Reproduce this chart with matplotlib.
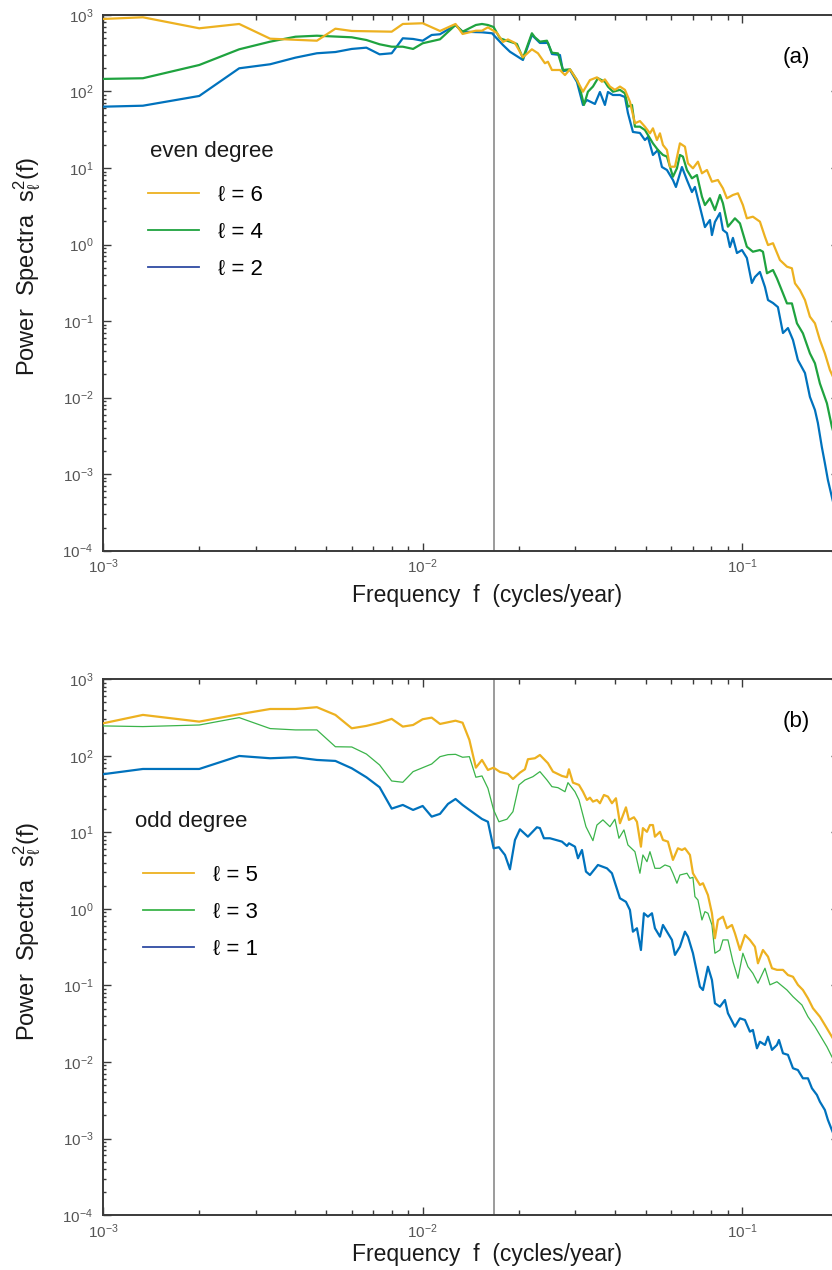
import numpy as np
import matplotlib.pyplot as plt
from matplotlib.lines import Line2D
from matplotlib.ticker import LogLocator, NullFormatter

# ---- panel (a): even degree, frequency (cycles/year) and power
f6 = [0.001, 0.001333, 0.002, 0.002667, 0.003333, 0.004667, 0.005333, 0.006,
      0.008, 0.008667, 0.01, 0.01133, 0.01267, 0.01333, 0.01467, 0.01533, 0.016,
      0.01708, 0.01783, 0.01848, 0.01944, 0.02059, 0.02196, 0.02294, 0.02412,
      0.02465, 0.02537, 0.02688, 0.02787, 0.02889, 0.03039, 0.03173, 0.03336,
      0.03508, 0.03637, 0.03716, 0.03853, 0.03994, 0.04141, 0.04293, 0.04450,
      0.04613, 0.04782, 0.04957, 0.05140, 0.05252, 0.05406, 0.05524, 0.05645,
      0.05809, 0.05936, 0.06154, 0.06379, 0.06613, 0.06758, 0.07006, 0.07263,
      0.07475, 0.07749, 0.08033, 0.08387, 0.08695, 0.08949, 0.09345, 0.09688,
      0.1004, 0.1033, 0.1079, 0.1135, 0.1177, 0.1203, 0.1247, 0.1311, 0.1379,
      0.1429, 0.1461, 0.1514, 0.1570, 0.1627, 0.1687, 0.1748, 0.1812, 0.1879, 0.2019]
p6 = [887, 933, 670, 763, 490, 461, 662, 618,
      605, 763, 780, 618, 763, 565, 623, 623, 690,
      582, 444, 479, 431, 280, 356, 316, 234,
      245, 191, 191, 164, 195, 141, 99.3, 141,
      153, 134, 144, 116, 105, 116, 105, 73.6,
      38.4, 41.1, 34.7, 28.4, 33.0, 23.2, 28.4, 20.0,
      17.2, 10.4, 10.4, 21.0, 19.0, 11.5, 9.91, 12.1,
      8.53, 9.42, 6.62, 6.97, 5.43, 4.02, 4.44, 4.67,
      3.28, 2.20, 2.31, 1.99, 1.26, 0.984, 1.04, 0.627, 0.513,
      0.489, 0.311, 0.254, 0.188, 0.114, 0.0933, 0.0565, 0.0378, 0.0229, 0.0118]

f4 = [0.001, 0.001333, 0.002, 0.002667, 0.003333, 0.004, 0.004667, 0.006,
      0.006667, 0.007333, 0.008, 0.008667, 0.009333, 0.01, 0.01133, 0.01267, 0.01333,
      0.01467, 0.01533, 0.016, 0.01667,
      0.01745, 0.01875, 0.01972, 0.02059, 0.02196, 0.02244, 0.02327, 0.02448,
      0.02537, 0.02650, 0.02747, 0.02889, 0.03039, 0.03105, 0.03196, 0.03288,
      0.03409, 0.03534, 0.03716, 0.03798, 0.03937, 0.04141, 0.04293, 0.04386,
      0.04515, 0.04613, 0.04782, 0.04957, 0.05066, 0.05252, 0.05445, 0.05645,
      0.05809, 0.06066, 0.06243, 0.06379, 0.06518, 0.06709, 0.06955, 0.07211,
      0.07475, 0.07638, 0.07918, 0.08208, 0.08509, 0.08695, 0.09014, 0.09480,
      0.09829, 0.1033, 0.1079, 0.1135, 0.1160, 0.1194, 0.1247, 0.1283,
      0.1340, 0.1379, 0.1429, 0.1482, 0.1547, 0.1627, 0.1687, 0.1748, 0.1839, 0.1906, 0.2019]
p4 = [146, 149, 222, 356, 448, 520, 536, 511,
      471, 414, 385, 385, 360, 427, 481, 740, 605,
      740, 763, 740, 696,
      495, 448, 418, 272, 577, 511, 448, 461,
      321, 315, 191, 195, 141, 110, 66.7, 99.3,
      116, 149, 134, 116, 99.3, 105, 94.6, 63.2,
      66.7, 34.7, 34.7, 31.4, 27.0, 21.0, 17.2, 14.8,
      14.1, 7.69, 9.91, 14.8, 14.1, 9.42, 7.33, 8.09,
      4.22, 3.28, 4.02, 2.82, 4.44, 3.46, 1.71, 2.20,
      1.89, 0.936, 0.805, 0.847, 0.805, 0.421, 0.464, 0.361,
      0.230, 0.170, 0.170, 0.0933, 0.0690, 0.0378, 0.0280, 0.0153, 0.00840, 0.00415, 0.00177]

f2 = [0.001, 0.001333, 0.002, 0.002667, 0.003333, 0.004, 0.004667, 0.005333,
      0.006, 0.006667, 0.007333, 0.008, 0.008667, 0.009333, 0.01, 0.01067, 0.01133,
      0.01267, 0.01333, 0.01533, 0.01648,
      0.01783, 0.01875, 0.02059, 0.02196, 0.02327, 0.02465, 0.02537, 0.02688,
      0.02747, 0.02889, 0.03039, 0.03173, 0.03265, 0.03458, 0.03585, 0.03716,
      0.03798, 0.03937, 0.04141, 0.04293, 0.04386, 0.04547, 0.04782, 0.04957,
      0.05066, 0.05252, 0.05445, 0.05604, 0.05809, 0.06066, 0.06198, 0.06472,
      0.06709, 0.06955, 0.07107, 0.07368, 0.07638, 0.07918, 0.08033, 0.08208,
      0.08509, 0.08695, 0.08949, 0.09145, 0.09345, 0.09619, 0.09972, 0.1033,
      0.1071, 0.1095, 0.1135, 0.1177, 0.1203, 0.1247, 0.1292, 0.1340,
      0.1389, 0.1440, 0.1492, 0.1570, 0.1627, 0.1687, 0.1723, 0.1773, 0.1812, 0.1852, 0.1906, 0.2019]
p2 = [63.3, 65.2, 87.4, 201, 227, 277, 316, 328,
      360, 374, 306, 316, 496, 486, 461, 548, 560,
      740, 605, 594, 577,
      405, 331, 258, 548, 431, 431, 309, 300,
      185, 191, 133, 66.7, 77.4, 68.7, 98.5, 66.7,
      98.5, 90.0, 90.0, 84.7, 52.4, 29.6, 28.7, 23.2,
      25.4, 14.8, 17.2, 10.3, 9.42, 6.97, 5.65, 10.3,
      6.97, 4.85, 5.65, 3.09, 1.69, 2.09, 1.33, 1.97,
      2.58, 1.55, 1.41, 0.927, 1.22, 0.774, 0.847, 0.667,
      0.314, 0.376, 0.438, 0.278, 0.188, 0.172, 0.152, 0.0697,
      0.0809, 0.0565, 0.0309, 0.0209, 0.0102, 0.00687, 0.00465, 0.00225, 0.00139, 0.000836, 0.000500, 0.000185]

# ---- panel (b): odd degree
f5 = [0.001, 0.001333, 0.002, 0.002667, 0.003333, 0.004, 0.004667, 0.005333,
      0.006, 0.006667, 0.007333, 0.008, 0.008667, 0.009333, 0.01, 0.01067,
      0.01133, 0.01267, 0.01333, 0.014, 0.01467, 0.01533, 0.016, 0.01667,
      0.01745, 0.01848, 0.01916, 0.02015, 0.02089, 0.02134, 0.02244, 0.02327,
      0.02465, 0.02556, 0.02727, 0.02827, 0.02868, 0.02952, 0.03083, 0.03173,
      0.03265, 0.03336, 0.03409, 0.03508, 0.03585, 0.03690, 0.03798, 0.03909,
      0.04023, 0.04141, 0.04324, 0.04418, 0.04580, 0.04680, 0.04817, 0.04886,
      0.05030, 0.05140, 0.05252, 0.05328, 0.05524, 0.05645, 0.05851, 0.06066,
      0.06288, 0.06472, 0.06613, 0.06856, 0.07006, 0.07211, 0.07368, 0.07529,
      0.07805, 0.08033, 0.08208, 0.08387, 0.08695, 0.08949, 0.09278, 0.09480,
      0.09829, 0.1019, 0.1056, 0.1095, 0.1119, 0.1160, 0.1203, 0.1238,
      0.1283, 0.1340, 0.1389, 0.1440, 0.1492, 0.1547, 0.1604, 0.1663,
      0.1748, 0.1812, 0.1906, 0.2019]
p5 = [267, 344, 281, 351, 411, 411, 434, 344,
      230, 247, 272, 305, 242, 254, 302, 317,
      262, 289, 272, 162, 70.3, 88.7, 65.6, 70.3,
      61.8, 58.2, 50.0, 60.5, 67.0, 90.6, 93.3, 103,
      80.4, 62.4, 54.8, 52.7, 67.0, 44.8, 41.8, 34.1,
      26.6, 28.5, 25.3, 26.6, 24.1, 30.9, 29.4, 24.1,
      28.0, 13.2, 21.3, 14.6, 15.8, 13.8, 6.52, 11.4,
      10.2, 12.5, 12.5, 8.81, 10.2, 7.98, 7.59, 4.38,
      6.21, 5.90, 6.21, 5.08, 2.93, 2.39, 2.06, 2.17,
      1.52, 0.879, 0.414, 0.718, 0.793, 0.560, 0.618, 0.481,
      0.291, 0.457, 0.394, 0.321, 0.195, 0.291, 0.238, 0.168,
      0.160, 0.160, 0.137, 0.130, 0.102, 0.0873, 0.0681, 0.0504,
      0.0391, 0.0305, 0.0214, 0.0144]

f3 = [0.001, 0.001333, 0.002, 0.002667, 0.003333, 0.004, 0.004667, 0.005333,
      0.006, 0.006667, 0.007333, 0.008, 0.008667, 0.009333, 0.01067, 0.01133,
      0.012, 0.01267, 0.01333, 0.014, 0.01467, 0.01533, 0.016, 0.01667,
      0.01732, 0.01835, 0.01916, 0.02001, 0.02089, 0.02212, 0.02327, 0.02448, 0.02537, 0.02650,
      0.02787, 0.02848, 0.02995, 0.03083, 0.03242, 0.03409, 0.03508, 0.03663, 0.03853, 0.03994,
      0.04111, 0.04262, 0.04386, 0.04613, 0.04782, 0.04886, 0.05030, 0.05140, 0.05328, 0.05524,
      0.05727, 0.05936, 0.06066, 0.06243, 0.06379, 0.06709, 0.06856, 0.07006, 0.07107, 0.07263,
      0.07475, 0.07638, 0.07805, 0.08033, 0.08208, 0.08509, 0.08695, 0.09014, 0.09345, 0.09688,
      0.1004, 0.1041, 0.1079, 0.1119, 0.1177, 0.1220, 0.1283, 0.1379, 0.1440, 0.1536,
      0.1604, 0.1687, 0.1773, 0.1839, 0.1906, 0.2019]
p3 = [247, 242, 254, 317, 228, 219, 219, 132,
      131, 106, 76.2, 47.1, 45.3, 62.4, 78.5, 97.9,
      104, 105, 96.2, 97.9, 52.7, 54.8, 37.8, 19.7,
      13.8, 14.9, 18.7, 41.8, 48.5, 53.6, 62.4, 48.5, 39.7, 38.5,
      34.1, 44.8, 34.1, 26.6, 11.9, 7.82, 12.5, 14.6, 11.9, 14.9,
      8.40, 10.8, 6.87, 5.61, 2.93, 5.08, 4.15, 5.61, 3.40, 3.40,
      3.76, 3.57, 2.93, 2.17, 2.78, 2.93, 2.52, 2.59, 1.45, 1.31,
      0.718, 0.923, 0.879, 0.618, 0.264, 0.291, 0.394, 0.394, 0.205, 0.124,
      0.264, 0.176, 0.144, 0.107, 0.168, 0.102, 0.112, 0.0873, 0.0715, 0.0556,
      0.0391, 0.0289, 0.0204, 0.0158, 0.0117, 0.00785]

f1 = [0.001, 0.001333, 0.002, 0.002667, 0.003333, 0.004, 0.004667, 0.005333,
      0.006, 0.006667, 0.007333, 0.008, 0.008667, 0.009333, 0.01, 0.01067,
      0.01133, 0.012, 0.01267, 0.01333, 0.014, 0.01533, 0.016, 0.01667,
      0.01732, 0.01809, 0.01875, 0.01944, 0.02015, 0.02134, 0.02277, 0.02327, 0.02395, 0.02501,
      0.02727, 0.02827, 0.02868, 0.02995, 0.03061, 0.03150, 0.03242, 0.03336, 0.03534, 0.03771,
      0.03909, 0.04141, 0.04324, 0.04450, 0.04547, 0.04680, 0.04817, 0.04922, 0.05066, 0.05215,
      0.05328, 0.05524, 0.05645, 0.05809, 0.06022, 0.06154, 0.06379, 0.06613, 0.06758, 0.07006,
      0.07368, 0.07529, 0.07805, 0.08033, 0.08208, 0.08509, 0.08821, 0.09014, 0.09480, 0.09829,
      0.1019, 0.1056, 0.1079, 0.1111, 0.1135, 0.1177, 0.1203, 0.1238, 0.1283, 0.1302,
      0.1340, 0.1389, 0.1440, 0.1492, 0.1547, 0.1604, 0.1651, 0.1711, 0.1748, 0.1812,
      0.1852, 0.1906, 0.2019]
p1 = [57.7, 67.6, 67.6, 100, 93.3, 96.2, 88.7, 86.1,
      69.0, 52.7, 39.0, 20.5, 22.9, 19.7, 22.2, 16.1,
      17.5, 23.6, 27.4, 22.9, 19.7, 15.0, 13.8, 6.21,
      6.41, 5.08, 3.30, 7.98, 11.0, 8.81, 11.7, 11.4, 8.40, 8.40,
      7.59, 6.67, 7.22, 6.52, 4.60, 5.90, 3.08, 2.78, 3.76, 3.40,
      2.93, 1.38, 1.24, 0.970, 0.505, 0.560, 0.291, 0.879, 0.793, 0.879,
      0.560, 0.435, 0.618, 0.505, 0.394, 0.251, 0.321, 0.505, 0.435, 0.264,
      0.0964, 0.0873, 0.176, 0.118, 0.0585, 0.0528, 0.0646, 0.0434, 0.0289, 0.0372,
      0.0354, 0.0249, 0.0262, 0.0151, 0.0184, 0.0167, 0.0214, 0.0144, 0.0167, 0.0194,
      0.0130, 0.0124, 0.00828, 0.00785, 0.00612, 0.00612, 0.00453, 0.00371, 0.00303, 0.00236,
      0.00175, 0.00129, 0.000708]

cut_period = 60.0  # years, grey vertical marker
even_labels = ['ℓ = 6', 'ℓ = 4', 'ℓ = 2']
odd_labels = ['ℓ = 5', 'ℓ = 3', 'ℓ = 1']

plt.rcParams['font.family'] = ['Liberation Sans', 'DejaVu Sans']
plt.rcParams['mathtext.default'] = 'regular'
plt.rcParams['axes.unicode_minus'] = False
narrow = ['Liberation Sans Narrow', 'Liberation Sans', 'DejaVu Sans']

c_or, c_gr, c_bl = '#EDB120', '#1FA33F', '#0072BD'
c_gr2 = '#3BB44A'
c_leg_bl = '#2F4BA3'
spine_col = '#3a3a3a'

fig = plt.figure(figsize=(8.32, 12.70), dpi=100)
ax_a = fig.add_axes([0.1238, 0.5665, 0.8841, 0.4217])
ax_b = fig.add_axes([0.1238, 0.0433, 0.8841, 0.4217])


def style_axes(ax, xlab_y):
    ax.set_xscale('log')
    ax.set_yscale('log')
    ax.set_xlim(1e-3, 0.2)
    ax.set_ylim(1e-4, 1e3)
    ax.set_xticks([1e-3, 1e-2, 1e-1])
    ax.set_yticks(10.0 ** np.arange(-4, 4))
    ax.xaxis.set_minor_locator(LogLocator(base=10, subs=np.arange(2, 10), numticks=20))
    ax.yaxis.set_minor_locator(LogLocator(base=10, subs=np.arange(2, 10), numticks=20))
    ax.xaxis.set_minor_formatter(NullFormatter())
    ax.yaxis.set_minor_formatter(NullFormatter())
    ax.tick_params(which='both', direction='in', top=True, right=True,
                   color=spine_col, width=1.0)
    ax.tick_params(which='major', length=5.5)
    ax.tick_params(axis='x', which='minor', length=3.5)
    ax.tick_params(axis='y', which='minor', length=2.5)
    ax.tick_params(axis='x', pad=5, labelsize=11, labelcolor='#555555',
                   labelfontfamily=narrow)
    ax.tick_params(axis='y', pad=7, labelsize=11, labelcolor='#555555',
                   labelfontfamily=narrow)
    for s in ax.spines.values():
        s.set_linewidth(1.4)
        s.set_color(spine_col)
    ax.axvline(1.0 / cut_period, color='#808080', lw=1.1, zorder=1)
    ax.set_xlabel('Frequency  f  (cycles/year)', family=narrow, fontsize=16.5, color='#1a1a1a')
    ax.xaxis.set_label_coords(0.522, xlab_y)
    ax.set_ylabel(r'Power  Spectra  s$^2_\ell$(f)', fontsize=17, color='#1a1a1a')
    ax.yaxis.set_label_coords(-0.082, 0.53)


def add_key(ax, heading, head_xy, labels, colors, anchor):
    ax.text(head_xy[0], head_xy[1], heading, transform=ax.transAxes,
            fontsize=16, ha='left', va='center', color='#1a1a1a')
    handles = [Line2D([], [], color=c, lw=1.3) for c in colors]
    ax.legend(handles, labels, loc='upper left', bbox_to_anchor=anchor,
              frameon=False, fontsize=16, borderpad=0, borderaxespad=0,
              handlelength=2.3, handletextpad=0.85, labelspacing=0.72)


# (a) even degree
ax_a.plot(f2, p2, color=c_bl, lw=1.6, zorder=3)
ax_a.plot(f4, p4, color=c_gr, lw=1.6, zorder=4)
ax_a.plot(f6, p6, color=c_or, lw=1.6, zorder=5)
style_axes(ax_a, -0.062)
add_key(ax_a, 'even degree', (0.0639, 0.7442), even_labels,
        [c_or, c_gr, c_leg_bl], (0.0612, 0.6835))
ax_a.text(0.942, 0.9197, '(a)', transform=ax_a.transAxes, fontsize=16,
          ha='center', va='center')

# (b) odd degree
ax_b.plot(f1, p1, color=c_bl, lw=1.6, zorder=3)
ax_b.plot(f3, p3, color=c_gr2, lw=0.9, zorder=4)
ax_b.plot(f5, p5, color=c_or, lw=1.6, zorder=5)
style_axes(ax_b, -0.052)
add_key(ax_b, 'odd degree', (0.0435, 0.7339), odd_labels,
        [c_or, c_gr2, c_leg_bl], (0.0544, 0.6545))
ax_b.text(0.942, 0.9206, '(b)', transform=ax_b.transAxes, fontsize=16,
          ha='center', va='center')

fig.savefig('out.png', dpi=100)
